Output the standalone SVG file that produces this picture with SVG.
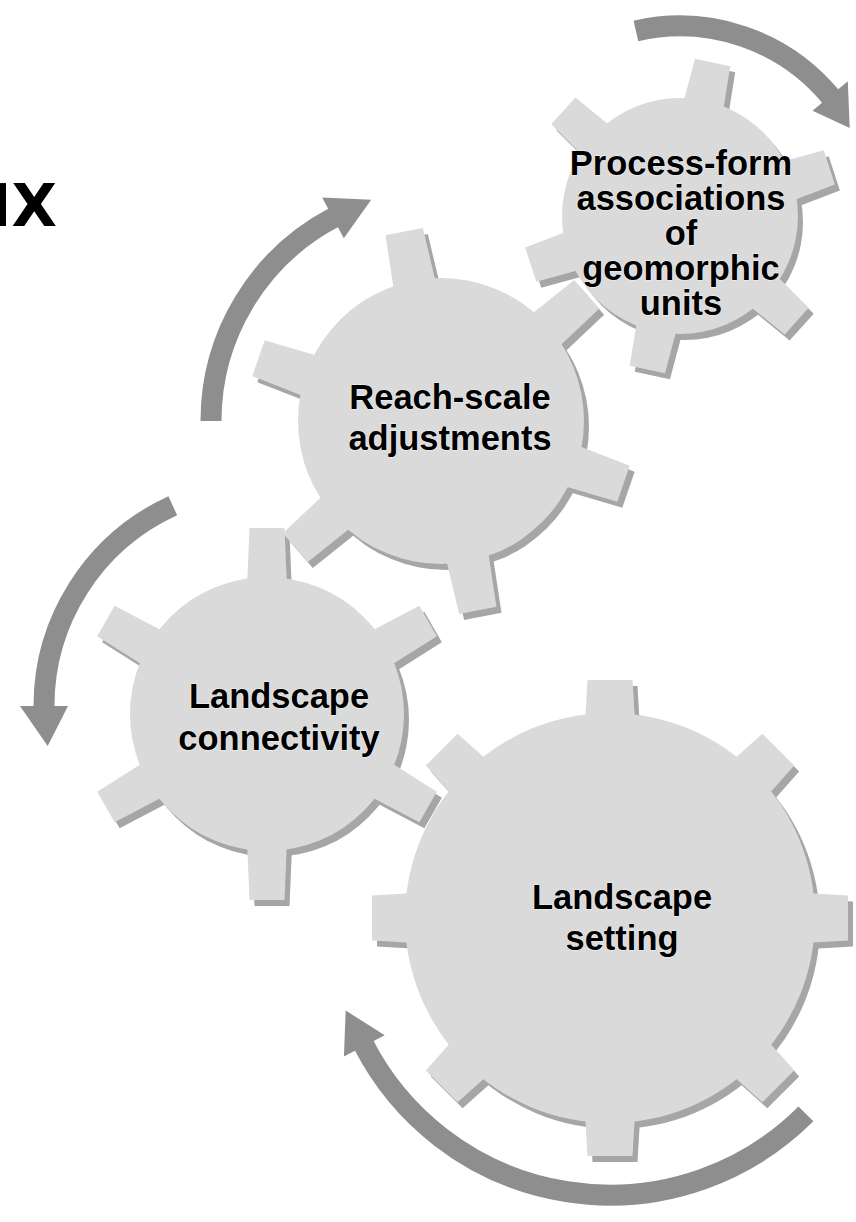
<svg xmlns="http://www.w3.org/2000/svg" xmlns:xlink="http://www.w3.org/1999/xlink" width="856" height="1222" viewBox="0 0 856 1222">
<style>
.shadow{fill:#a6a6a6}
.body{fill:#dadada}
.arc{fill:none;stroke:#8e8e8e;stroke-width:21}
.head{fill:#8e8e8e}
.label{font-family:"Liberation Sans",Arial,sans-serif;font-weight:bold;font-size:34.5px;fill:#000;text-anchor:middle;stroke:#f2f2f2;stroke-width:1.2px;paint-order:stroke;stroke-linejoin:round}
.title{font-family:"DejaVu Sans",sans-serif;font-weight:bold;font-size:59px;fill:#000;text-anchor:end}
</style>
<defs>
<path id="tooth-big" d="M-22.5,-238 H22.5 L25,-195 H-25 Z"/>
<path id="tooth-conn" d="M-17.5,-186 H17.5 L20,-127 H-20 Z"/>
<path id="tooth-reach" d="M-19,-193 H19 L21.5,-133 H-21.5 Z"/>
<path id="tooth-proc" d="M-18,-157 H18 L20.5,-108 H-20.5 Z"/>
<g id="shape-big">
<circle r="205"/>
<use href="#tooth-big"/>
<use href="#tooth-big" transform="rotate(45)"/>
<use href="#tooth-big" transform="rotate(90)"/>
<use href="#tooth-big" transform="rotate(135)"/>
<use href="#tooth-big" transform="rotate(180)"/>
<use href="#tooth-big" transform="rotate(225)"/>
<use href="#tooth-big" transform="rotate(270)"/>
<use href="#tooth-big" transform="rotate(315)"/>
</g>
<g id="shape-conn">
<circle r="137"/>
<use href="#tooth-conn"/>
<use href="#tooth-conn" transform="rotate(60)"/>
<use href="#tooth-conn" transform="rotate(120)"/>
<use href="#tooth-conn" transform="rotate(180)"/>
<use href="#tooth-conn" transform="rotate(240)"/>
<use href="#tooth-conn" transform="rotate(300)"/>
</g>
<g id="shape-reach">
<circle r="143"/>
<use href="#tooth-reach" transform="rotate(-11)"/>
<use href="#tooth-reach" transform="rotate(49)"/>
<use href="#tooth-reach" transform="rotate(109)"/>
<use href="#tooth-reach" transform="rotate(169)"/>
<use href="#tooth-reach" transform="rotate(229)"/>
<use href="#tooth-reach" transform="rotate(289)"/>
</g>
<g id="shape-proc">
<circle r="118"/>
<use href="#tooth-proc" transform="rotate(12)"/>
<use href="#tooth-proc" transform="rotate(72)"/>
<use href="#tooth-proc" transform="rotate(132)"/>
<use href="#tooth-proc" transform="rotate(192)"/>
<use href="#tooth-proc" transform="rotate(252)"/>
<use href="#tooth-proc" transform="rotate(312)"/>
</g>
</defs>

<rect width="856" height="1222" fill="#ffffff"/>

<text class="title" x="57" y="226">IX</text>

<g id="connectors">
<path class="arc" d="M635.9,31.0 A196,196 0 0 1 831.2,97.3"/>
<polygon class="head" points="847.8,81.2 849.7,127.9 812.5,110.8"/>
<path class="arc" d="M211,421 A230,230 0 0 1 334.8,217.0"/>
<polygon class="head" points="322.2,197.6 371.2,199.7 343.8,238.2"/>
<path class="arc" d="M172.8,505.8 A220,220 0 0 0 44,707.9"/>
<polygon class="head" points="20,706 47.7,746.1 68,706"/>
<path class="arc" d="M805.9,1113.9 A277,277 0 0 1 363.2,1043.8"/>
<polygon class="head" points="343.9,1056.5 345.7,1010.5 384.7,1035.3"/>
</g>

<g id="gear-landscape-setting">
<use href="#shape-big" class="shadow" transform="translate(615,924)"/>
<use href="#shape-big" class="body" transform="translate(610,918)"/>
<text class="label" x="622" y="909">Landscape</text>
<text class="label" x="622" y="950">setting</text>
</g>

<g id="gear-landscape-connectivity">
<use href="#shape-conn" class="shadow" transform="translate(272,720)"/>
<use href="#shape-conn" class="body" transform="translate(267,714)"/>
<text class="label" x="279" y="708">Landscape</text>
<text class="label" x="279" y="750">connectivity</text>
</g>

<g id="gear-reach-scale">
<use href="#shape-reach" class="shadow" transform="translate(446,427)"/>
<use href="#shape-reach" class="body" transform="translate(441,421)"/>
<text class="label" x="450" y="409">Reach-scale</text>
<text class="label" x="450" y="450">adjustments</text>
</g>

<g id="gear-process-form">
<use href="#shape-proc" class="shadow" transform="translate(685,222)"/>
<use href="#shape-proc" class="body" transform="translate(680,216)"/>
<text class="label" x="681" y="175">Process-form</text>
<text class="label" x="681" y="210">associations</text>
<text class="label" x="681" y="245">of</text>
<text class="label" x="681" y="280">geomorphic</text>
<text class="label" x="681" y="315">units</text>
</g>
</svg>
